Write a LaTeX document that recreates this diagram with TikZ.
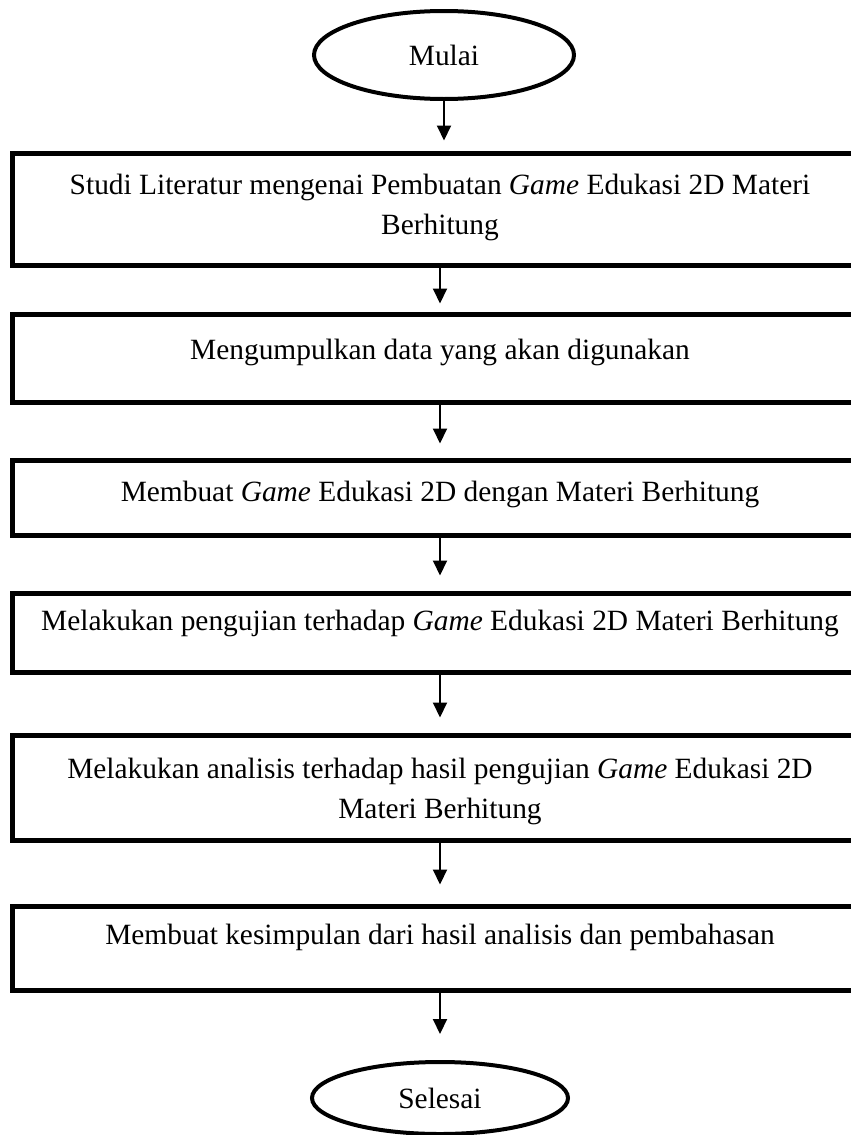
\documentclass[tikz,border=0pt]{standalone}
\usepackage{fontspec}
\setmainfont{Liberation Serif}
\usetikzlibrary{arrows.meta,positioning,shapes.geometric}

\begin{document}
\begin{tikzpicture}[
  font=\fontsize{14.7}{20.3}\selectfont,
  >={Triangle[length=7.5pt,width=7pt]},
  terminal/.style={draw,ellipse,line width=2pt,minimum width=130pt,
                   minimum height=44pt,inner sep=0pt},
  stepbox/.style={draw,line width=2.5pt,minimum width=428pt,inner sep=0pt},
  steptext/.style={anchor=north,align=center,inner sep=0pt},
  flow/.style={->,line width=1pt},
]
\useasboundingbox (0pt,0pt) rectangle (425.5pt,-567.5pt);
\clip (0pt,0pt) rectangle (425.5pt,-567.5pt);

% ---- start ----
\node[terminal] (mulai) at (222pt,-27.5pt) {Mulai};

% ---- the steps, each an empty box with its text near the top ----
\node[stepbox,minimum height=56pt] (studi) at (220pt,-104.5pt) {};
\node[steptext] (studitxt) at ([yshift=-11.5pt]studi.north)
     {Studi Literatur mengenai Pembuatan \textit{Game} Edukasi 2D Materi\\Berhitung};

\node[stepbox,minimum height=44pt] (data) at (220pt,-179pt) {};
\node[steptext] (datatxt) at ([yshift=-13.5pt]data.north)
     {Mengumpulkan data yang akan digunakan};

\node[stepbox,minimum height=37.5pt] (buat) at (220pt,-248.75pt) {};
\node[steptext] (buattxt) at ([yshift=-11.5pt]buat.north)
     {Membuat \textit{Game} Edukasi 2D dengan Materi Berhitung};

\node[stepbox,minimum height=39.5pt] (uji) at (220pt,-316.25pt) {};
\node[steptext] (ujitxt) at ([yshift=-9.5pt]uji.north)
     {Melakukan pengujian terhadap \textit{Game} Edukasi 2D Materi Berhitung};

\node[stepbox,minimum height=52.5pt] (analisis) at (220pt,-393.75pt) {};
\node[steptext] (analisistxt) at ([yshift=-12.5pt]analisis.north)
     {Melakukan analisis terhadap hasil pengujian \textit{Game} Edukasi 2D\\Materi Berhitung};

\node[stepbox,minimum height=42pt] (simpul) at (220pt,-474pt) {};
\node[steptext] (simpultxt) at ([yshift=-10pt]simpul.north)
     {Membuat kesimpulan dari hasil analisis dan pembahasan};

% ---- end ----
\node[terminal,minimum width=128pt,minimum height=36pt] (selesai) at (220pt,-549pt) {Selesai};

% arrows down the chain, with the gap left above each target
\draw[flow,shorten >=5pt] (mulai.south) -- (mulai.south |- studi.north);
\foreach \a/\b/\g in {studi/data/4pt,data/buat/7pt,buat/uji/7.5pt,
                      uji/analisis/7.5pt,analisis/simpul/9.5pt,simpul/selesai/13pt}
  \draw[flow,shorten >=\g] (\a) -- (\b);

\end{tikzpicture}
\end{document}
